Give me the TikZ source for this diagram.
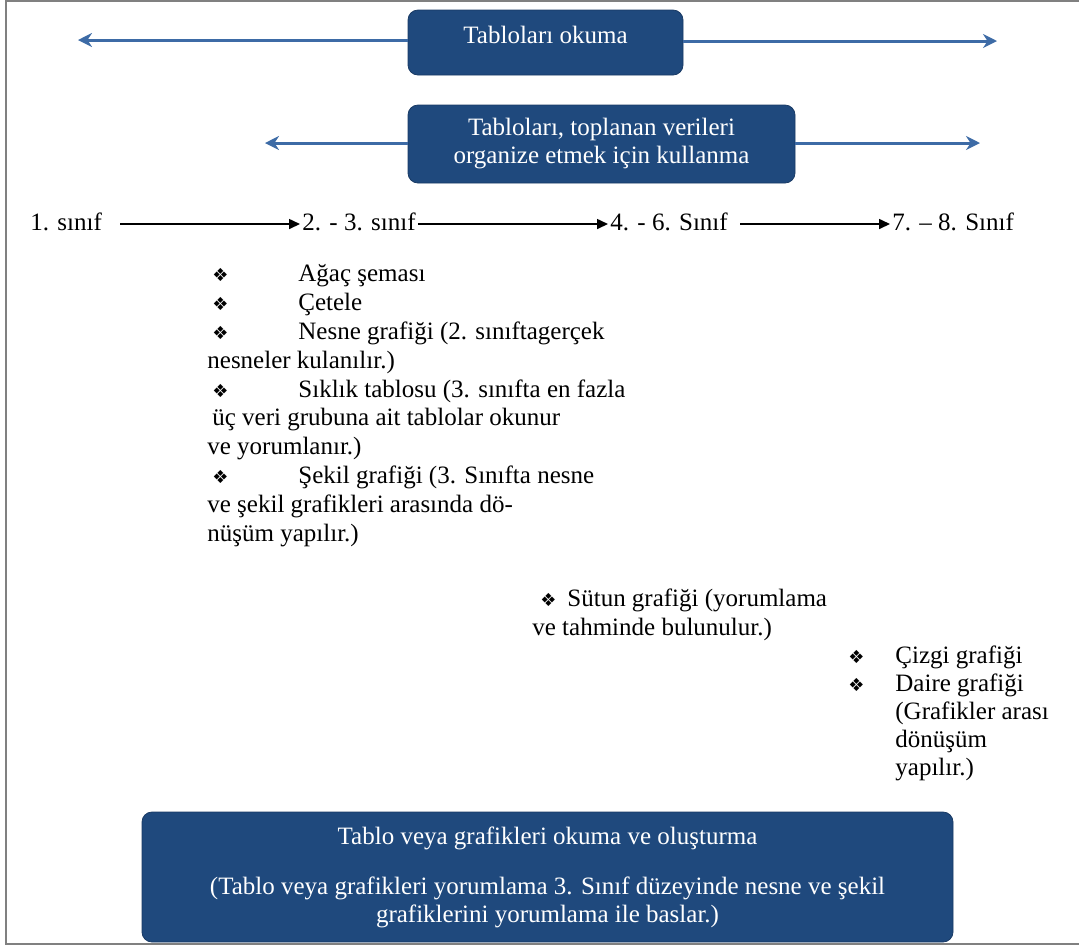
\documentclass[tikz,border=0pt]{standalone}
\usepackage{fontspec}
\setmainfont{Liberation Serif}
\newfontfamily\symfont{DejaVu Sans}
\usetikzlibrary{arrows.meta}
\definecolor{boxblue}{RGB}{31,73,125}
\definecolor{arrowblue}{RGB}{61,107,166}
\newcommand{\bul}{{\symfont\fontsize{9}{9}\selectfont ❖}}

\begin{document}
\begin{tikzpicture}[x=0.5pt,y=-0.5pt,
   bluebox/.style={draw=boxblue!80!black,fill=boxblue,rounded corners=5pt,
       text=white,align=center,font=\fontsize{12.5}{14}\selectfont},
   spread/.style={draw=arrowblue,line width=1.5pt,-{Stealth[length=7pt,width=7pt]}},
   grade/.style={inner sep=1pt,font=\fontsize{12.5}{14}\selectfont,
       text height=1.6ex,text depth=0.2ex},
   gradearrow/.style={draw,line width=0.8pt,-{Triangle[length=5.5pt,width=5pt]}},
   listtext/.style={inner sep=0pt,align=left,font=\fontsize{12.5}{14.4}\selectfont}]

\useasboundingbox (0,0) rectangle (1079,950);
\draw[gray,line width=1.2pt] (1079,1) -- (6,1) -- (6,944) -- (1079,944);

\node[bluebox,minimum width=137.5pt,minimum height=32.5pt,text depth=7.5pt] (okuma)
    at (545.5,42.5) {Tabloları okuma};
\coordinate (okumaL) at (78,40);
\coordinate (okumaR) at (997,41);
\draw[spread] (okuma.west |- okumaL) -- (okumaL);
\draw[spread] (okuma.east |- okumaR) -- (okumaR);

\node[bluebox,minimum width=193.5pt,minimum height=39pt] (organize) at (601.5,144)
    {Tabloları, toplanan verileri\\organize etmek için kullanma};
\coordinate (organizeL) at (265,143);
\coordinate (organizeR) at (980,143);
\draw[spread] (organize.west |- organizeL) -- (organizeL);
\draw[spread] (organize.east |- organizeR) -- (organizeR);

\node[grade,anchor=west] (g1)  at (28,224)  {1. sınıf};
\node[grade,anchor=west] (g23) at (300,224) {2. - 3. sınıf};
\node[grade,anchor=west] (g46) at (608,224) {4. - 6. Sınıf};
\node[grade,anchor=west] (g78) at (890,224) {7. – 8. Sınıf};
\draw[gradearrow,shorten <=8pt] (g1) -- (g23);
\draw[gradearrow] (g23) -- (g46);
\draw[gradearrow,shorten <=5pt] (g46) -- (g78);

\node[listtext,anchor=base west] (list23) at (207,541) {%
\makebox[45.5pt][l]{\hspace{2.5pt}\bul}Ağaç şeması\\
\makebox[45.5pt][l]{\hspace{2.5pt}\bul}Çetele\\
\makebox[45.5pt][l]{\hspace{2.5pt}\bul}Nesne grafiği (2. sınıftagerçek\\
nesneler kulanılır.)\\
\makebox[45.5pt][l]{\hspace{2.5pt}\bul}Sıklık tablosu (3. sınıfta en fazla\\
\hspace{2.5pt}üç veri grubuna ait tablolar okunur\\
ve yorumlanır.)\\
\makebox[45.5pt][l]{\hspace{2.5pt}\bul}Şekil grafiği (3. Sınıfta nesne\\
ve şekil grafikleri arasında dö-\\
nüşüm yapılır.)};

\node[listtext,anchor=base west] (list46) at (532,635) {%
\makebox[17.5pt][l]{\hspace{4pt}\bul}Sütun grafiği (yorumlama\\
ve tahminde bulunulur.)};

\node[listtext,anchor=base west,font=\fontsize{12.5}{13.9}\selectfont] (list78)
    at (848,775) {%
\makebox[23.5pt][l]{\bul}Çizgi grafiği\\
\makebox[23.5pt][l]{\bul}Daire grafiği\\
\hspace{23.5pt}(Grafikler arası\\
\hspace{23.5pt}dönüşüm\\
\hspace{23.5pt}yapılır.)};

\node[bluebox,minimum width=405.5pt,minimum height=65pt] (olusturma) at (547.5,877)
    {Tablo veya grafikleri okuma ve oluşturma\\[11pt]
     (Tablo veya grafikleri yorumlama 3. Sınıf düzeyinde nesne ve şekil\\
     grafiklerini yorumlama ile baslar.)};

\end{tikzpicture}
\end{document}
